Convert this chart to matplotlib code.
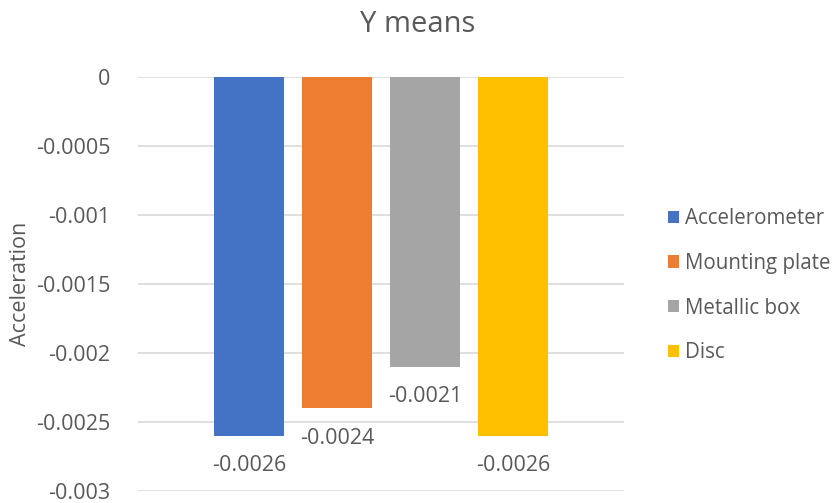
import matplotlib.pyplot as plt
from matplotlib.patches import Patch

plt.rcParams["font.family"] = ["Open Sans", "DejaVu Sans"]

series = ["Accelerometer", "Mounting plate", "Metallic box", "Disc"]
values = [-0.0026, -0.0024, -0.0021, -0.0026]
colors = ["#4472C4", "#ED7D31", "#A5A5A5", "#FFC000"]
yticks = [0, -0.0005, -0.001, -0.0015, -0.002, -0.0025, -0.003]
ytick_labels = ["0", "-0.0005", "-0.001", "-0.0015", "-0.002", "-0.0025", "-0.003"]

text_color = "#595959"

fig = plt.figure(figsize=(8.36, 5.03), dpi=100)
ax = fig.add_axes([0.165, 0.024, 0.5814, 0.823])

x = range(len(series))
bars = ax.bar(x, values, width=0.795, color=colors, zorder=2)

for xi, v in zip(x, values):
    ax.annotate(f"{v:g}", (xi, v), xytext=(0, -14), textcoords="offset points",
                ha="center", va="top", fontsize=15.5, color=text_color)

ax.set_xlim(1.5 - 2.761, 1.5 + 2.761)
ax.set_ylim(-0.003, 0)
ax.set_yticks(yticks)
ax.set_yticklabels(ytick_labels)
ax.set_xticks([])
ax.tick_params(axis="y", length=0, pad=20, labelsize=15.5, labelcolor=text_color)
ax.grid(axis="y", color="#D9D9D9", linewidth=1.2, zorder=0)
for s in ax.spines.values():
    s.set_visible(False)

ax.set_ylabel("Acceleration", fontsize=15.5, color=text_color, labelpad=3)
fig.text(0.5, 0.952, "Y means", ha="center", va="center", fontsize=21, color=text_color)

handles = [Patch(facecolor=c, label=s) for c, s in zip(colors, series)]
fig.legend(handles=handles, loc="center left", bbox_to_anchor=(0.777, 0.432),
           frameon=False, fontsize=14.8, labelcolor=text_color,
           handlelength=0.55, handleheight=0.55, handletextpad=0.25, labelspacing=1.15)

plt.savefig("out.png", dpi=100)
